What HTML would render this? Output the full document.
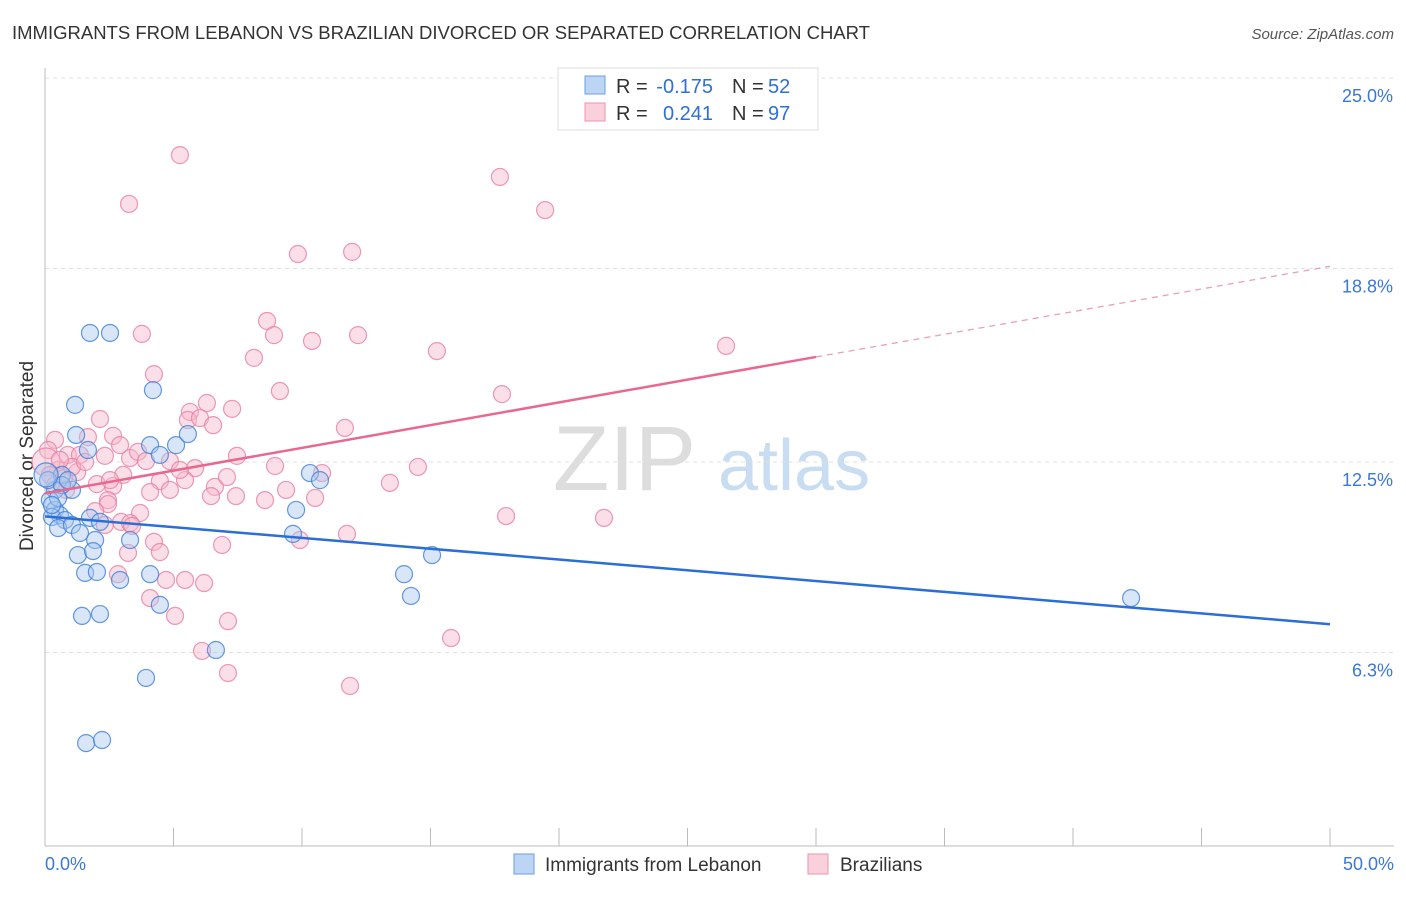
<!DOCTYPE html>
<html><head><meta charset="utf-8"><style>
body{margin:0;background:#fff;font-family:"Liberation Sans",sans-serif}
svg text{font-family:"Liberation Sans",sans-serif}
</style></head><body>
<svg id="c" width="1406" height="892" xmlns="http://www.w3.org/2000/svg">
<text x="12" y="39" font-size="18.5" fill="#333">IMMIGRANTS FROM LEBANON VS BRAZILIAN DIVORCED OR SEPARATED CORRELATION CHART</text>
<text x="1394" y="39" font-size="15" fill="#555" font-style="italic" text-anchor="end">Source: ZipAtlas.com</text>
<text x="33" y="456" font-size="19" fill="#333" text-anchor="middle" transform="rotate(-90 33 456)">Divorced or Separated</text>
<text x="553" y="490" font-size="92" fill="#ddd" font-family="Liberation Serif">ZIP</text>
<text x="718" y="490" font-size="72" fill="#c8dcf2">atlas</text>
<g id="grid"></g><g id="axes"></g><g id="pts"></g><g id="lines"></g>
<g>
<rect x="558" y="68" width="260" height="62" fill="#fff" stroke="#ddd"/>
<rect x="585" y="76" width="20" height="18" fill="#bcd5f5" stroke="#6d9ee0"/>
<rect x="585" y="103" width="20" height="18" fill="#fbd0dd" stroke="#ec93ae"/>
<text x="616" y="93" font-size="20" fill="#333">R =</text>
<text x="713" y="93" font-size="20" fill="#2f6fd6" text-anchor="end">-0.175</text>
<text x="732" y="93" font-size="20" fill="#333">N =</text>
<text x="768" y="93" font-size="20" fill="#2f6fd6">52</text>
<text x="616" y="120" font-size="20" fill="#333">R =</text>
<text x="713" y="120" font-size="20" fill="#2f6fd6" text-anchor="end">0.241</text>
<text x="732" y="120" font-size="20" fill="#333">N =</text>
<text x="768" y="120" font-size="20" fill="#2f6fd6">97</text>
</g>
<g>
<rect x="514" y="854" width="20" height="20" fill="#bcd5f5" stroke="#6d9ee0"/>
<text x="545" y="871" font-size="19" fill="#333">Immigrants from Lebanon</text>
<rect x="808" y="854" width="20" height="20" fill="#fbd0dd" stroke="#ec93ae"/>
<text x="840" y="871" font-size="19" fill="#333">Brazilians</text>
</g>
</svg>
<script>
const yTicks=[25.0,18.8,12.5,6.3];
const yTickLabels=["25.0%","18.8%","12.5%","6.3%"];
const xTickLabels=["0.0%","50.0%"];
const blueLine=[[0,10.73],[50,7.22]];
const pinkLine=[[0,11.48],[30,15.92],[50,18.87]];
const bluePx=[[90,333],[110,333],[153,390],[75,405],[76,435],[88,450],[150,445],[176,445],[188,434],[160,455],[310,473],[320,480],[62,475],[72,490],[55,490],[50,500],[55,510],[60,515],[52,517],[65,520],[58,528],[72,525],[90,518],[100,522],[80,533],[95,540],[130,540],[78,555],[93,551],[85,573],[97,572],[120,580],[150,574],[160,605],[82,616],[100,614],[216,650],[146,678],[86,743],[102,740],[296,510],[293,534],[432,555],[404,574],[411,596],[1131,598],[48,480],[62,485],[68,480],[58,498],[46,475],[52,505]];
const pinkPx=[[180,155],[500,177],[545,210],[129,204],[298,254],[352,252],[267,321],[274,335],[312,341],[358,335],[142,334],[254,358],[437,351],[726,346],[154,374],[280,391],[502,394],[207,403],[232,409],[190,412],[188,420],[200,418],[100,419],[213,425],[345,428],[88,437],[113,436],[55,440],[48,450],[68,455],[80,455],[105,456],[130,458],[138,452],[146,461],[170,461],[237,456],[195,468],[275,466],[418,467],[322,473],[390,483],[215,487],[227,477],[160,481],[170,490],[185,480],[123,475],[113,486],[97,484],[77,472],[58,470],[62,485],[286,490],[315,498],[236,496],[211,496],[108,500],[108,504],[140,513],[121,522],[130,523],[95,511],[105,525],[132,526],[506,516],[604,518],[347,534],[222,545],[154,542],[160,552],[128,553],[118,574],[166,580],[185,580],[204,583],[150,598],[175,616],[228,621],[202,651],[228,673],[350,686],[451,638],[300,540],[46,462],[50,475],[64,478],[72,467],[85,462],[110,480],[55,485],[66,490],[150,492],[265,500],[120,445],[180,470],[60,460]];
const X=p=>45+p*25.7, Y=v=>846-v*30.72;
const invX=px=>(px-45)/25.7, invY=py=>(846-py)/30.72;
const blueX=bluePx.map(d=>+invX(d[0]).toFixed(2)), blueY=bluePx.map(d=>+invY(d[1]).toFixed(2));
const pinkX=pinkPx.map(d=>+invX(d[0]).toFixed(2)), pinkY=pinkPx.map(d=>+invY(d[1]).toFixed(2));
const NS="http://www.w3.org/2000/svg";
function mk(t,a,p){const e=document.createElementNS(NS,t);for(const k in a)e.setAttribute(k,a[k]);p.appendChild(e);return e;}
const grid=document.getElementById('grid'),axes=document.getElementById('axes'),pts=document.getElementById('pts'),lines=document.getElementById('lines');
yTicks.forEach((v,i)=>{
 const g=mk('line',{x1:45,x2:1394,y1:Y(v),y2:Y(v),stroke:'#e0e0e0','stroke-dasharray':'4,4'},grid);
 
 
 const t=mk('text',{x:1393,y:Y(v)+24,'font-size':18,fill:'#3a78d6','text-anchor':'end'},axes);t.textContent=yTickLabels[i];
 
 
});
const ax=mk('line',{x1:45,x2:1394,y1:846,y2:846,stroke:'#bbb'},axes);


const ay=mk('line',{x1:45,x2:45,y1:68,y2:846,stroke:'#bbb'},axes);


for(let i=0;i<=10;i++){const tk=mk('line',{x1:X(i*5),x2:X(i*5),y1:828,y2:846,stroke:'#bbb'},axes);
 
 }
[[0,'start',45],[1,'end',1394]].forEach(([i,a,x])=>{const t=mk('text',{x:x,y:870,'font-size':18,fill:'#3a78d6','text-anchor':a},axes);t.textContent=xTickLabels[i];
 
 });
function dots(xs,ys,fill,stroke,name){xs.forEach((x,i)=>{const big=(x<0.1);const c=mk('circle',{cx:X(x),cy:Y(ys[i]),r:big?(name==='pink-point'?14:12):8.5,fill:fill,'fill-opacity':0.45,stroke:stroke,'stroke-opacity':0.8,'stroke-width':1.2},pts);
 
 });}
dots(pinkX,pinkY,'#f7b8cb','#e97fa0','pink-point');
dots(blueX,blueY,'#a9c8f0','#3f7fd8','blue-point');
const bl=mk('line',{x1:X(blueLine[0][0]),y1:Y(blueLine[0][1]),x2:X(blueLine[1][0]),y2:Y(blueLine[1][1]),stroke:'#2a6fd6','stroke-width':2.5},lines);


const pl=mk('line',{x1:X(pinkLine[0][0]),y1:Y(pinkLine[0][1]),x2:X(pinkLine[1][0]),y2:Y(pinkLine[1][1]),stroke:'#e8688f','stroke-width':2.5},lines);


const pd=mk('line',{x1:X(pinkLine[1][0]),y1:Y(pinkLine[1][1]),x2:X(pinkLine[2][0]),y2:Y(pinkLine[2][1]),stroke:'#e8a0b6','stroke-width':1.3,'stroke-dasharray':'6,5'},lines);


</script>
</body></html>
